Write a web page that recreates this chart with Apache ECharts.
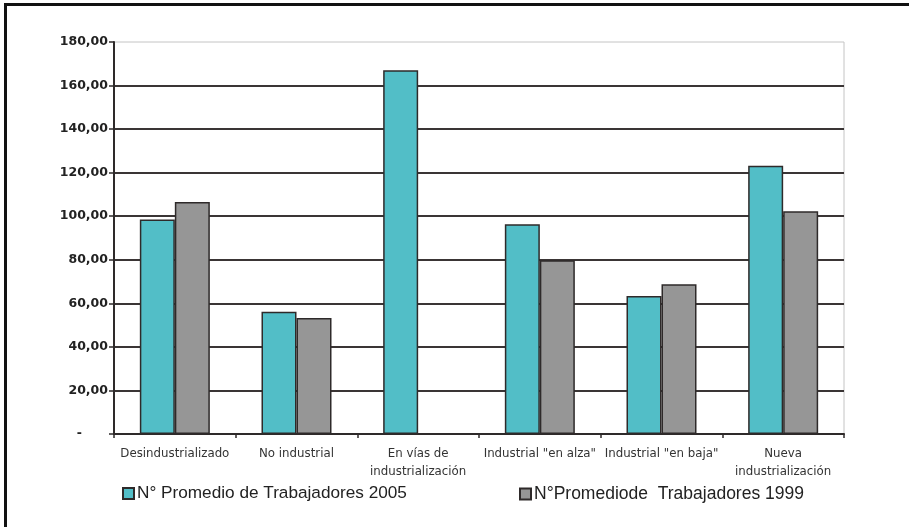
<!DOCTYPE html>
<html>
<head>
  <meta charset="utf-8">
  <title>Trabajadores</title>
  <script src="https://cdn.jsdelivr.net/npm/echarts@6/dist/echarts.min.js"></script>
  <style>
    html, body { margin: 0; padding: 0; background: #fff; }
    #frame { position: absolute; left: 4px; top: 3px; width: 910px; height: 530px;
             border-top: 3px solid #111; border-left: 3px solid #111; pointer-events: none; }
  </style>
</head>
<body>
<div id="main" style="width: 909px; height: 527px;"></div>
<div id="frame"></div>
<script type="text/javascript">
  // datos
  var categorias = ['Desindustrializado', 'No industrial', 'En vías de\nindustrialización',
    'Industrial "en alza"', 'Industrial "en baja"', 'Nueva\nindustrialización'];
  var serie2005 = [98.5, 56.1, 167.0, 96.3, 63.4, 123.2];
  var serie1999 = [106.5, 53.3, null, 79.8, 68.8, 102.3];
  var nombre2005 = 'N° Promedio de Trabajadores 2005';
  var nombre1999 = 'N°Promediode  Trabajadores 1999';

  var myChart = echarts.init(document.getElementById('main'));

  var borde = { borderColor: '#2e2a2a', borderWidth: 1.5 };

  var option = {
    animation: false,
    textStyle: { fontFamily: 'DejaVu Sans' },
    grid: {
      left: 114, right: 65, top: 42, bottom: 93,
      show: true, borderColor: '#c4c4c4', borderWidth: 1
    },
    legend: [
      {
        data: [nombre2005], left: 117, top: 480,
        itemWidth: 11, itemHeight: 11, itemGap: 4,
        icon: 'rect',
        textStyle: { fontFamily: 'Liberation Sans', fontSize: 17.2, color: '#222', padding: [0, 0, 0, -2] }
      },
      {
        data: [nombre1999], left: 514, top: 480,
        itemWidth: 11, itemHeight: 11, itemGap: 4,
        icon: 'rect',
        textStyle: { fontFamily: 'Liberation Sans', fontSize: 17.5, color: '#222', padding: [0, 0, 0, -2] }
      }
    ],
    xAxis: {
      type: 'category',
      data: categorias,
      axisLine: { lineStyle: { color: '#2e2a2a', width: 2 } },
      axisTick: { show: true, length: 4, lineStyle: { color: '#2e2a2a', width: 1.5 } },
      axisLabel: {
        interval: 0, margin: 11, fontSize: 11.8, lineHeight: 18, color: '#333',
        fontFamily: 'DejaVu Sans'
      }
    },
    yAxis: {
      type: 'value',
      min: 0, max: 180, interval: 20,
      axisLine: { show: true, lineStyle: { color: '#2e2a2a', width: 2 } },
      axisTick: { show: true, length: 5, lineStyle: { color: '#2e2a2a', width: 1.5 } },
      axisLabel: {
        margin: 6, fontSize: 12.5, fontWeight: 'bold', color: '#222', fontFamily: 'DejaVu Sans',
        formatter: function (v) {
          if (v === 0) return '-      ';
          return v.toFixed(2).replace('.', ',');
        }
      },
      splitLine: { showMaxLine: false, lineStyle: { color: '#3a3535', width: 2 } }
    },
    series: [
      {
        name: nombre2005,
        type: 'bar',
        data: serie2005,
        barWidth: 35,
        barGap: '0%',
        itemStyle: Object.assign({ color: '#52bec7' }, borde)
      },
      {
        name: nombre1999,
        type: 'bar',
        data: serie1999,
        barWidth: 35,
        itemStyle: Object.assign({ color: '#969696' }, borde)
      }
    ]
  };
  myChart.setOption(option);
</script>
</body>
</html>
